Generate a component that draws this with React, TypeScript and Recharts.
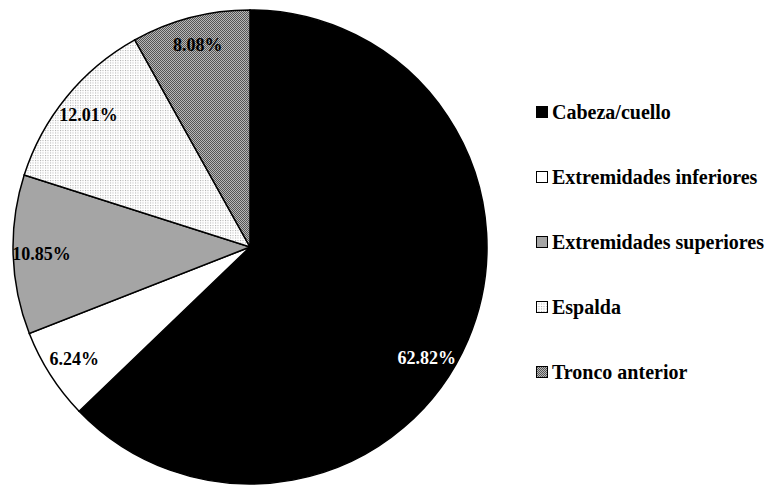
import React from "react";
import { PieChart, Pie, Cell, Legend } from "recharts";

const categories = ["Cabeza/cuello", "Extremidades inferiores", "Extremidades superiores", "Espalda", "Tronco anterior"];
const values = [62.82, 6.24, 10.85, 12.01, 8.08];
const fills = ["#000000", "#ffffff", "#a5a5a5", "url(#dotPat)", "url(#checkPat)"];
const labelColors = ["#ffffff", "#000000", "#000000", "#000000", "#000000"];

const data = categories.map((name, i) => ({ name, value: values[i], fill: fills[i] }));

const FONT = "Liberation Serif, Times New Roman, DejaVu Serif, serif";

const RAD = Math.PI / 180;
const renderLabel = (props: any) => {
  const { cx, cy, midAngle, outerRadius, index, value, percent } = props;
  const r = outerRadius * 0.88;
  const ang = percent > 0.5 ? midAngle - 9 : midAngle;
  const x = cx + r * Math.cos(-ang * RAD);
  const y = cy + r * Math.sin(-ang * RAD);
  return (
    <text x={x} y={y} textAnchor="middle" dominantBaseline="central" fill={labelColors[index]}
      fontFamily={FONT} fontWeight="bold" fontSize={18}>
      {value.toFixed(2)}%
    </text>
  );
};

const renderLegend = () => (
  <div style={{ fontFamily: FONT, fontWeight: "bold", fontSize: 20, color: "#000" }}>
    {data.map((d, i) => (
      <div key={d.name} style={{ display: "flex", alignItems: "center", height: 65 }}>
        <svg width={13} height={13} style={{ marginRight: 3 }}>
          <rect x={0.5} y={0.5} width={11} height={11} fill={d.fill} stroke="#000" strokeWidth={1} />
        </svg>
        <span>{d.name}</span>
      </div>
    ))}
  </div>
);

export default function App() {
  return (
    <div style={{ position: "absolute", left: 0, top: 0, width: 768, height: 485, background: "#fff" }}>
      <PieChart width={768} height={485} margin={{ top: 0, right: 0, bottom: 0, left: 0 }}>
        <defs>
          <pattern id="dotPat" width={2.5} height={2.5} patternUnits="userSpaceOnUse">
            <rect width={2.5} height={2.5} fill="#ffffff" />
            <rect x={0} y={0} width={1} height={1} fill="#a8a8a8" />
          </pattern>
          <pattern id="checkPat" width={2} height={2} patternUnits="userSpaceOnUse">
            <rect width={2} height={2} fill="#b8b8b8" />
            <rect x={0} y={0} width={1} height={1} fill="#555555" />
            <rect x={1} y={1} width={1} height={1} fill="#555555" />
          </pattern>
        </defs>
        <Pie
          data={data}
          dataKey="value"
          nameKey="name"
          cx={250}
          cy={247}
          outerRadius={237}
          startAngle={90}
          endAngle={-270}
          stroke="#000"
          strokeWidth={1.5}
          label={renderLabel}
          labelLine={false}
          isAnimationActive={false}
        >
          {data.map((d) => (
            <Cell key={d.name} fill={d.fill} />
          ))}
        </Pie>
        <Legend
          layout="vertical"
          content={renderLegend}
          wrapperStyle={{ position: "absolute", left: 536, top: 80, width: 232 }}
        />
      </PieChart>
    </div>
  );
}
